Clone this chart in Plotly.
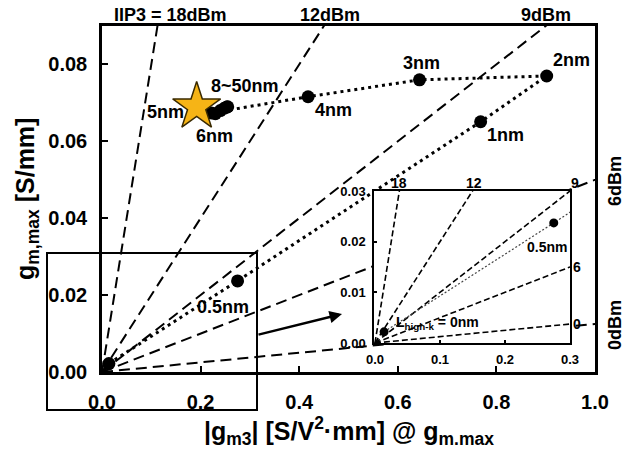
import plotly.graph_objects as go

# ---------------- data ----------------
thick_labels = ["0nm", "0.5nm", "1nm", "2nm", "3nm", "4nm", "5nm", "6nm", "8nm", "10nm", "20nm", "50nm"]
gm3 = [0.014, 0.275, 0.768, 0.902, 0.644, 0.418, 0.222, 0.230, 0.240, 0.248, 0.253, 0.255]
gmmax = [0.0022, 0.0237, 0.0651, 0.0770, 0.0760, 0.0716, 0.0674, 0.0672, 0.0680, 0.0686, 0.0689, 0.0690]

star_x = [0.192]
star_y = [0.0690]

iip3_dbm = ["18", "12", "9", "6", "0"]
iip3_slope = [0.80, 0.20, 0.10, 0.05, 0.0125]   # gm,max / |gm3| along each IIP3 contour

main_xticks = [0.0, 0.2, 0.4, 0.6, 0.8, 1.0]
main_xticklabels = ["0.0", "0.2", "0.4", "0.6", "0.8", "1.0"]
main_yticks = [0.00, 0.02, 0.04, 0.06, 0.08]
main_yticklabels = ["0.00", "0.02", "0.04", "0.06", "0.08"]
ins_xticks = [0.0, 0.1, 0.2, 0.3]
ins_xticklabels = ["0.0", "0.1", "0.2", "0.3"]
ins_yticks = [0.00, 0.01, 0.02, 0.03]
ins_yticklabels = ["0.00", "0.01", "0.02", "0.03"]

FONT = "Liberation Sans, Arial, sans-serif"

fig = go.Figure()

# ---------------- main IIP3 lines ----------------
for s in iip3_slope:
    fig.add_trace(go.Scatter(x=[0, 1.5], y=[0, 1.5 * s], mode="lines",
                             line=dict(color="black", width=2, dash="11px,6px"),
                             xaxis="x", yaxis="y", hoverinfo="skip"))

# main data series
fig.add_trace(go.Scatter(x=gm3, y=gmmax, mode="lines+markers",
                         line=dict(color="black", width=3, dash="3px,4px"),
                         marker=dict(color="black", size=13),
                         xaxis="x", yaxis="y"))
fig.add_trace(go.Scatter(x=star_x, y=star_y, mode="markers",
                         marker=dict(symbol="star", color="#F6B416", size=36,
                                     line=dict(color="#3a2a00", width=1.5)),
                         xaxis="x", yaxis="y"))

# ---------------- inset ----------------
for s in iip3_slope:
    fig.add_trace(go.Scatter(x=[0, 0.5], y=[0, 0.5 * s], mode="lines",
                             line=dict(color="black", width=1.6, dash="6px,3px"),
                             xaxis="x2", yaxis="y2", hoverinfo="skip"))
fig.add_trace(go.Scatter(x=gm3, y=gmmax, mode="lines+markers",
                         line=dict(color="#444", width=1.2, dash="2px,2px"),
                         marker=dict(color="black", size=9),
                         xaxis="x2", yaxis="y2"))

# ---------------- pixel helpers for layout ----------------
L, R, T, B = 102, 595, 26, 372
def px(x):
    return (x - L) / (R - L)
def py(y):
    return (B - y) / (B - T)

ann = []
def label(text, x, y, size, xref="paper", yref="paper", xshift=0, yshift=0,
          xanchor="center", textangle=0):
    ann.append(dict(text=text, x=x, y=y, xref=xref, yref=yref, showarrow=False,
                    xshift=xshift, yshift=yshift, xanchor=xanchor, yanchor="middle",
                    textangle=textangle,
                    font=dict(family=FONT, size=size, color="black", weight="bold")))

# IIP3 labels on main
label("IIP3 = 18dBm", px(170), py(15), 18)
label("12dBm", px(330), py(15), 18)
label("9dBm", px(546), py(15), 18)
label("6dBm", px(615), py(181), 18, textangle=-90)
label("0dBm", px(615), py(325), 18, textangle=-90)

# point labels (offsets from the points, in px)
idx = {n: i for i, n in enumerate(thick_labels)}
def plabel(text, name, dx, dy, xr="x", yr="y", size=18, xanchor="center"):
    i = idx[name]
    label(text, gm3[i], gmmax[i], size, xref=xr, yref=yr, xshift=dx, yshift=dy,
          xanchor=xanchor)

plabel("2nm", "2nm", 25, 16)
plabel("3nm", "3nm", 2, 17)
plabel("4nm", "4nm", 25, -13)
plabel("1nm", "1nm", 25, -13)
plabel("0.5nm", "0.5nm", -15, -26)
plabel("5nm", "5nm", -46, 1)
plabel("6nm", "6nm", -1, -22)
plabel("8~50nm", "50nm", 17, 21)

# inset labels
plabel("0.5nm", "0.5nm", -7, -24, xr="x2", yr="y2", size=14)
plabel("L<sub>high-k</sub> = 0nm", "0nm", 10, 9, xr="x2", yr="y2", size=14, xanchor="left")
label("18", px(399), py(183), 14)
label("12", px(474), py(183), 14)
label("9", px(575), py(183), 14)
label("6", px(577), py(267), 14)
label("0", px(577), py(324), 14)

# axis titles
label("g<sub>m,max</sub> [S/mm]", px(27), py(199), 25, textangle=-90)
label("|g<sub>m3</sub>| [S/V<sup>2</sup>·mm] @ g<sub>m.max</sub>", px(349), py(431), 25)

# arrow from zoom box to inset
ann.append(dict(x=px(342), y=py(314), xref="paper", yref="paper",
                ax=-85, ay=21, showarrow=True, arrowhead=2, arrowsize=1,
                arrowwidth=2.5, arrowcolor="black", text=""))

shapes = [dict(type="rect", xref="paper", yref="paper",
               x0=px(47), x1=px(257), y0=py(410), y1=py(253),
               line=dict(color="black", width=2), layer="above")]

tickfont_main = dict(family=FONT, size=20, color="black", weight="bold")
tickfont_ins = dict(family=FONT, size=13, color="black", weight="bold")

fig.update_layout(
    width=631, height=449,
    margin=dict(l=L, r=631 - R, t=T, b=449 - B),
    paper_bgcolor="white", plot_bgcolor="white",
    showlegend=False,
    font=dict(family=FONT, color="black"),
    xaxis=dict(range=[0, 1.0], domain=[0, 1], tickvals=main_xticks, ticktext=main_xticklabels,
               showgrid=False, zeroline=False, showline=True, mirror=True,
               linecolor="black", linewidth=2.5, ticks="inside", ticklen=6, tickwidth=2,
               tickcolor="black", tickfont=tickfont_main, ticklabelstandoff=10),
    yaxis=dict(range=[0, 0.09], domain=[0, 1], tickvals=main_yticks, ticktext=main_yticklabels,
               showgrid=False, zeroline=False, showline=True, mirror=True,
               linecolor="black", linewidth=2.5, ticks="inside", ticklen=6, tickwidth=2,
               tickcolor="black", tickfont=tickfont_main, ticklabelstandoff=8),
    xaxis2=dict(range=[-0.0015, 0.3], domain=[px(374), px(570)], anchor="y2",
                tickvals=ins_xticks, ticktext=ins_xticklabels,
                showgrid=False, zeroline=False, showline=True, mirror=True,
                linecolor="black", linewidth=1.5, ticks="inside", ticklen=3, tickwidth=1.5,
                tickcolor="black", tickfont=tickfont_ins, ticklabelstandoff=4),
    yaxis2=dict(range=[0, 0.03], domain=[py(343), py(191)], anchor="x2",
                tickvals=ins_yticks, ticktext=ins_yticklabels,
                showgrid=False, zeroline=False, showline=True, mirror=True,
                linecolor="black", linewidth=1.5, ticks="inside", ticklen=3, tickwidth=1.5,
                tickcolor="black", tickfont=tickfont_ins, ticklabelstandoff=4),
    annotations=ann,
    shapes=shapes,
)

fig.write_html("out.html")
